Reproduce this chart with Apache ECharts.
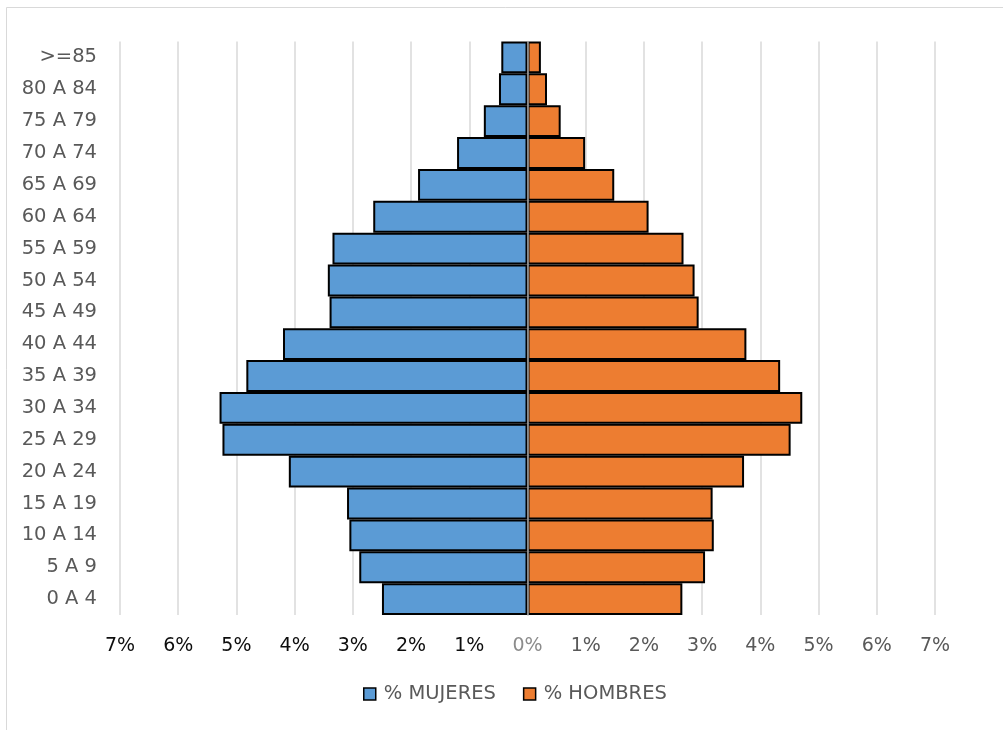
<!DOCTYPE html>
<html>
<head>
<meta charset="utf-8">
<script src="https://cdn.jsdelivr.net/npm/echarts@6/dist/echarts.min.js"></script>
<style>
html,body{margin:0;padding:0;background:#fff;}
#chart{width:1003px;height:730px;}
</style>
</head>
<body>
<div id="chart"></div>
<script>
const categories = ['0 A 4','5 A 9','10 A 14','15 A 19','20 A 24','25 A 29','30 A 34','35 A 39','40 A 44','45 A 49','50 A 54','55 A 59','60 A 64','65 A 69','70 A 74','75 A 79','80 A 84','>=85'];
const mujeres = [2.50, 2.89, 3.06, 3.10, 4.10, 5.24, 5.29, 4.83, 4.20, 3.40, 3.43, 3.35, 2.65, 1.88, 1.21, 0.75, 0.49, 0.45];
const hombres = [2.66, 3.05, 3.20, 3.18, 3.72, 4.52, 4.72, 4.34, 3.76, 2.94, 2.87, 2.68, 2.08, 1.49, 0.99, 0.57, 0.335, 0.23];
const seriesNames = ['% MUJERES', '% HOMBRES'];

const FONT = 'DejaVu Sans';
const chart = echarts.init(document.getElementById('chart'), null, {renderer: 'canvas'});
chart.setOption({
  animation: false,
  backgroundColor: '#ffffff',
  graphic: [{
    type: 'rect', silent: true, z: -10,
    shape: {x: 6.5, y: 7.5, width: 1010, height: 740},
    style: {fill: 'none', stroke: '#d9d9d9', lineWidth: 1}
  }],
  grid: {left: 120, right: 68, top: 41.5, bottom: 115, containLabel: false, outerBoundsMode: 'none'},
  legend: {
    data: seriesNames,
    left: 363, top: 684, padding: 0,
    icon: 'rect', itemWidth: 12, itemHeight: 12, itemGap: 27,
    itemStyle: {borderColor: '#000', borderWidth: 1.5},
    textStyle: {fontFamily: FONT, fontSize: 19.5, color: '#595959', padding: [0, 0, 0, 3]}
  },
  xAxis: {
    type: 'value', min: -7, max: 7, interval: 1,
    axisLine: {show: false}, axisTick: {show: false},
    splitLine: {show: true, lineStyle: {color: '#d9d9d9', width: 1.5}},
    axisLabel: {
      margin: 22,
      fontFamily: FONT, fontSize: 19,
      formatter: function (v) {
        const t = Math.abs(Math.round(v)) + '%';
        if (v < 0) return '{n|' + t + '}';
        if (v === 0) return '{z|' + t + '}';
        return '{p|' + t + '}';
      },
      rich: {
        n: {color: '#0d0d0d', fontFamily: FONT, fontSize: 19},
        z: {color: '#8c8c8c', fontFamily: FONT, fontSize: 19},
        p: {color: '#595959', fontFamily: FONT, fontSize: 19}
      }
    }
  },
  yAxis: {
    type: 'category', data: categories, z: 10,
    axisLine: {show: true, onZero: true, lineStyle: {color: '#a6a6a6', width: 1.5}},
    axisTick: {show: false},
    splitLine: {show: false},
    axisLabel: {margin: 23, fontFamily: FONT, fontSize: 19.5, color: '#595959'}
  },
  series: [
    {
      name: seriesNames[0], type: 'bar', stack: 'p', barCategoryGap: 0,
      data: mujeres.map(v => -v),
      itemStyle: {color: '#5b9bd5', borderColor: '#000', borderWidth: 2}
    },
    {
      name: seriesNames[1], type: 'bar', stack: 'p', barCategoryGap: 0,
      data: hombres,
      itemStyle: {color: '#ed7d31', borderColor: '#000', borderWidth: 2}
    }
  ]
});
</script>
</body>
</html>
